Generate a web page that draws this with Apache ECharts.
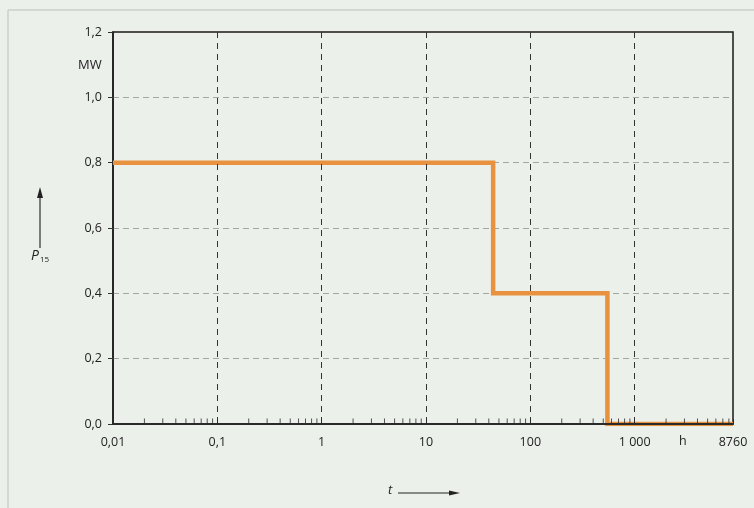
<!DOCTYPE html>
<html>
<head>
<meta charset="utf-8">
<script src="https://cdn.jsdelivr.net/npm/echarts@6/dist/echarts.min.js"></script>
<style>
html,body{margin:0;padding:0;background:#ecf0eb;}
#chart{width:754px;height:508px;}
</style>
</head>
<body>
<div id="chart"></div>
<script>
// ---- data ----
const stepTimes = [0.01, 44, 44, 548, 548, 8760];        // h
const stepPower = [0.8, 0.8, 0.4, 0.4, 0.0, 0.0];        // MW
const xTickLabels = {"0.01": "0,01", "0.1": "0,1", "1": "1", "10": "10", "100": "100", "1000": "1 000", "8760": "8760"};
const yTickLabels = ["0,0", "0,2", "0,4", "0,6", "0,8", "1,0", "1,2"];
const minorTickValues = [
  0.02,0.03,0.04,0.05,0.06,0.07,0.08,0.09,
  0.2,0.3,0.4,0.5,0.6,0.7,0.8,0.9,
  2,3,4,5,6,7,8,9,
  20,30,40,50,60,70,80,90,
  200,300,400,500,600,700,800,900,
  2000,3000,4000,5000,6000,7000,8000
];

const chart = echarts.init(document.getElementById('chart'), null, {renderer: 'canvas'});
const font = '"Open Sans", "Noto Sans", sans-serif';

const option = {
  backgroundColor: '#ecf0eb',
  animation: false,
  grid: {left: 113, right: 21, top: 32, bottom: 84, show: true, borderColor: '#1a1a1a', borderWidth: 1.5, backgroundColor: 'transparent'},
  xAxis: {
    type: 'log', logBase: 10, min: 0.01, max: 8760, z: 5,
    axisLine: {show: true, onZero: false, lineStyle: {color: '#2a2a2a', width: 2}},
    axisTick: {show: true, inside: true, length: 5, lineStyle: {color: '#2a2a2a'}},
    splitLine: {show: true, showMinLine: false, showMaxLine: false, lineStyle: {color: '#333', type: [6, 5], width: 1}},
    axisLabel: {
      color: '#222', fontFamily: font, fontSize: 12.5, margin: 12, showMaxLabel: true, showMinLabel: true,
      formatter: function (v) {
        const key = String(Number(Number(v).toPrecision(6)));
        return xTickLabels[key] !== undefined ? xTickLabels[key] : '';
      }
    }
  },
  yAxis: {
    type: 'value', min: 0, max: 1.2, interval: 0.2,
    axisLine: {show: true, lineStyle: {color: '#1a1a1a', width: 1.5}},
    axisTick: {show: true, inside: false, length: 5, lineStyle: {color: '#333'}},
    splitLine: {show: true, showMinLine: false, showMaxLine: false, lineStyle: {color: '#a2a6a1', type: [6, 4], width: 1}},
    axisLabel: {
      color: '#222', fontFamily: font, fontSize: 12.5, margin: 11,
      formatter: function (v) { return yTickLabels[Math.round(v / 0.2)]; }
    }
  },
  series: [
    {
      type: 'line', z: 3,
      data: stepTimes.map((t, i) => [t, stepPower[i]]),
      symbol: 'none',
      lineStyle: {color: '#e8913f', width: 4.5, join: 'miter'},
      silent: true
    },
    {
      type: 'scatter', z: 6,
      data: minorTickValues.map(v => [v, 0]),
      symbol: 'rect', symbolSize: [1, 5], symbolOffset: [0, -3],
      itemStyle: {color: '#2a2a2a'},
      silent: true
    }
  ],
  graphic: [
    {type: 'line', shape: {x1: 8, y1: 10, x2: 8, y2: 508}, style: {stroke: '#d3d8d2', lineWidth: 2}},
    {type: 'line', shape: {x1: 8, y1: 10, x2: 754, y2: 10}, style: {stroke: '#d3d8d2', lineWidth: 2}},
    {type: 'text', left: 78, top: 59, style: {text: 'MW', fill: '#222', font: '13px "Open Sans", sans-serif'}},
    {type: 'line', shape: {x1: 40, y1: 197, x2: 40, y2: 248}, style: {stroke: '#555', lineWidth: 1.5}},
    {type: 'polygon', shape: {points: [[37, 198], [43, 198], [40, 187]]}, style: {fill: '#222'}},
    {type: 'text', left: 31, top: 249, style: {
      text: '{p|P}{s|15}',
      rich: {
        p: {font: 'italic 14px "Open Sans", sans-serif', fill: '#222'},
        s: {font: '8px "Open Sans", sans-serif', fill: '#222', verticalAlign: 'bottom', padding: [7, 0, 0, 1]}
      }
    }},
    {type: 'text', left: 388, top: 484, style: {text: 't', fill: '#222', font: 'italic 13px "Open Sans", sans-serif'}},
    {type: 'line', shape: {x1: 398, y1: 493, x2: 452, y2: 493}, style: {stroke: '#222', lineWidth: 1.2}},
    {type: 'polygon', shape: {points: [[449, 490.5], [449, 495.5], [460, 493]]}, style: {fill: '#222'}},
    {type: 'text', left: 679, top: 435, style: {text: 'h', fill: '#222', font: '12.5px "Open Sans", sans-serif'}}
  ]
};
chart.setOption(option);
</script>
</body>
</html>
